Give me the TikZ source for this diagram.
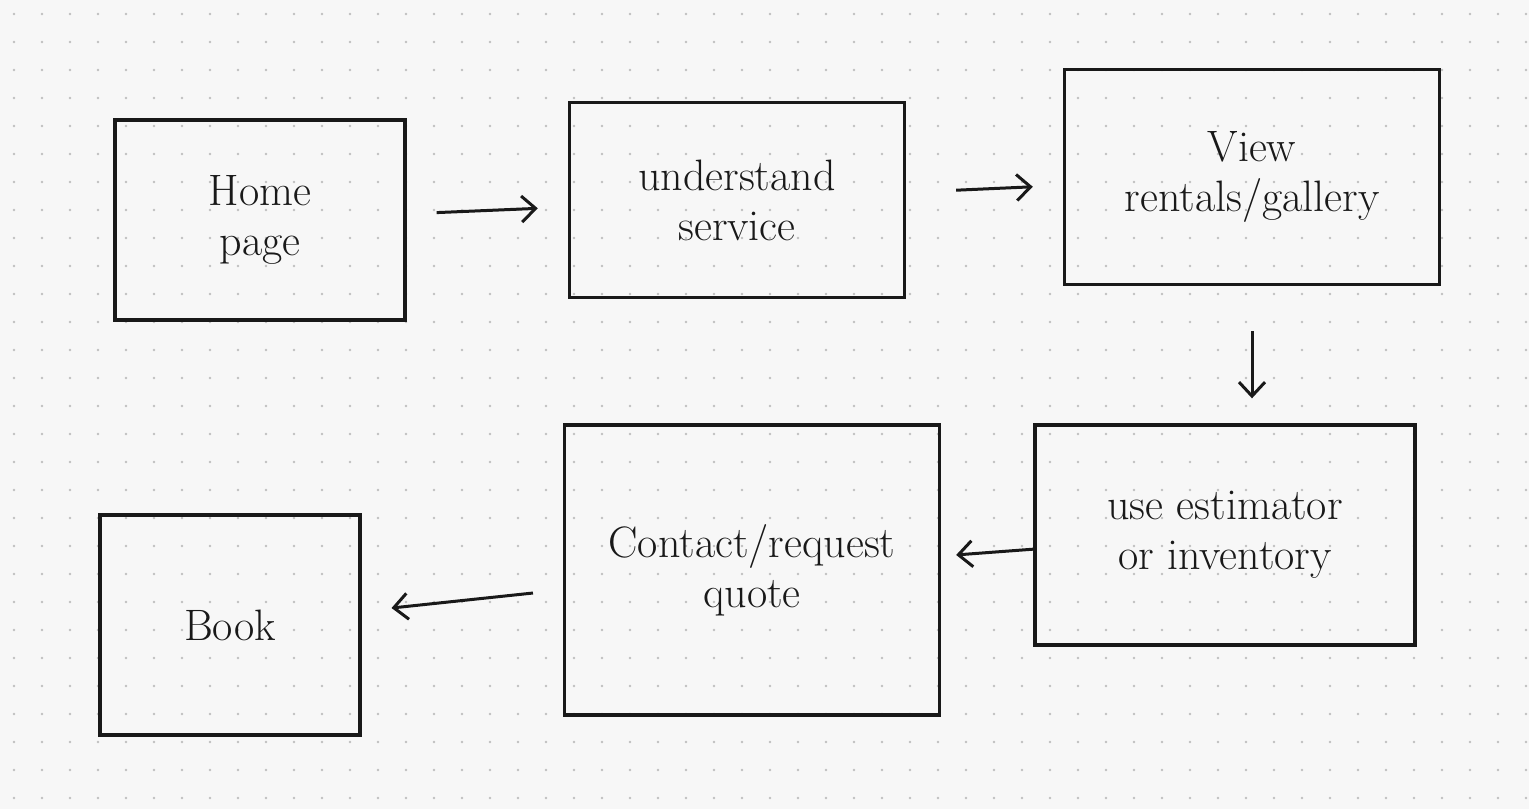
\documentclass[tikz,border=0pt]{standalone}
\usepackage{tikz}
\usetikzlibrary{positioning,arrows.meta}
\definecolor{paper}{RGB}{247,247,247}
\definecolor{ink}{RGB}{25,25,25}
\tikzset{
  step box/.style={draw=ink, line width=3.4pt, rectangle, align=center, text=ink,
    font=\fontsize{44}{50}\selectfont},
  flow/.style={draw=ink, line width=3pt, -{Straight Barb[length=14pt,width=26pt]}, shorten >=30pt, shorten <=30pt}
}
\begin{document}
\begin{tikzpicture}[x=1pt,y=-1pt]
\fill[paper] (0,0) rectangle (1529,809);
\useasboundingbox (0,0) rectangle (1529,809);
% dot grid
\foreach \i in {0,...,54}{
  \foreach \j in {0,...,28}{
    \fill[black!25] (14+28*\i,14+28*\j) circle (1.4);
  }
}
% steps
\node[step box, minimum width=290, minimum height=200] (home) at (260,220) {Home\\page};
\node[step box, minimum width=335, minimum height=195] (serv) at (737,200) {understand\\service};
\node[step box, minimum width=375, minimum height=215] (view) at (1252,177) {View\\rentals/gallery};
\node[step box, minimum width=380, minimum height=220] (est) at (1225,535) {use estimator\\or inventory};
\node[step box, minimum width=375, minimum height=290] (quote) at (752,570) {Contact/request\\quote};
\node[step box, minimum width=260, minimum height=220] (book) at (230,625) {Book};
% arrows
\draw[flow] (home) -- (serv);
\draw[flow, shorten <=50pt] (serv) -- (view);
\draw[flow, shorten <=45pt, shorten >=25pt] (view) -- (view|-est.north);
\draw[flow, shorten <=0pt, shorten >=15pt] (est) -- (quote);
\draw[flow] (quote) -- (book);
\end{tikzpicture}
\end{document}
